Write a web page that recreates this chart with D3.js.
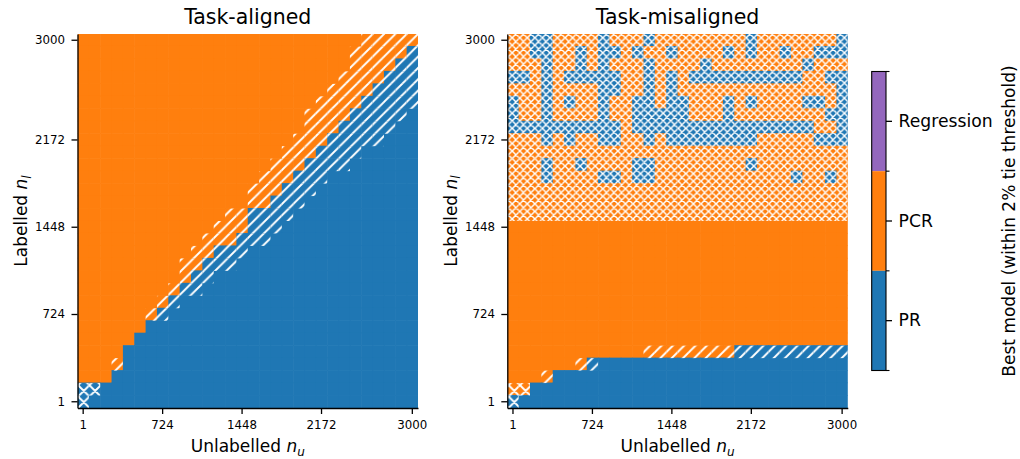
<!DOCTYPE html>
<meta charset="utf-8">
<style>
body { margin: 0; background: #fff; }
text { font-family: "DejaVu Sans", sans-serif; fill: #000; }
.axis path, .axis line { stroke: #000; stroke-width: 1.3; }
</style>
<svg width="1020" height="459"></svg>
<script src="https://cdn.jsdelivr.net/npm/d3@7"></script>
<script>

// grid values of n_u and n_l (30 steps from 1 to 3000)
var nValues = [1, 104, 207, 311, 414, 518, 621, 724, 828, 931,
               1035, 1138, 1241, 1345, 1448, 1552, 1655, 1759, 1862, 1965,
               2069, 2172, 2276, 2379, 2482, 2586, 2689, 2793, 2896, 3000];
var tickValues = [1, 724, 1448, 2172, 3000];

var models = ["PR", "PCR", "Regression"];
var modelColors = ["#1f77b4", "#ff7f0e", "#9467bd"];
var modelCodes = {B: "PR", O: "PCR", R: "Regression"};

// best model per cell, top row = n_l 3000, left column = n_u 1
var alignedBest = [
  "OOOOOOOOOO OOOOOOOOOO OOOOOOOOOO",
  "OOOOOOOOOO OOOOOOOOOO OOOOOOOOOB",
  "OOOOOOOOOO OOOOOOOOOO OOOOOOOOBB",
  "OOOOOOOOOO OOOOOOOOOO OOOOOOOBBB",
  "OOOOOOOOOO OOOOOOOOOO OOOOOOBBBB",
  "OOOOOOOOOO OOOOOOOOOO OOOOOBBBBB",
  "OOOOOOOOOO OOOOOOOOOO OOOOBBBBBB",
  "OOOOOOOOOO OOOOOOOOOO OOOBBBBBBB",
  "OOOOOOOOOO OOOOOOOOOO OOBBBBBBBB",
  "OOOOOOOOOO OOOOOOOOOO OBBBBBBBBB",
  "OOOOOOOOOO OOOOOOOOOO BBBBBBBBBB",
  "OOOOOOOOOO OOOOOOOOOB BBBBBBBBBB",
  "OOOOOOOOOO OOOOOOOOBB BBBBBBBBBB",
  "OOOOOOOOOO OOOOOOOBBB BBBBBBBBBB",
  "OOOOOOOOOO OOOOOBBBBB BBBBBBBBBB",
  "OOOOOOOOOO OOOOOBBBBB BBBBBBBBBB",
  "OOOOOOOOOO OOOOBBBBBB BBBBBBBBBB",
  "OOOOOOOOOO OOBBBBBBBB BBBBBBBBBB",
  "OOOOOOOOOO OBBBBBBBBB BBBBBBBBBB",
  "OOOOOOOOOO BBBBBBBBBB BBBBBBBBBB",
  "OOOOOOOOOB BBBBBBBBBB BBBBBBBBBB",
  "OOOOOOOOBB BBBBBBBBBB BBBBBBBBBB",
  "OOOOOOOBBB BBBBBBBBBB BBBBBBBBBB",
  "OOOOOOBBBB BBBBBBBBBB BBBBBBBBBB",
  "OOOOOBBBBB BBBBBBBBBB BBBBBBBBBB",
  "OOOOBBBBBB BBBBBBBBBB BBBBBBBBBB",
  "OOOOBBBBBB BBBBBBBBBB BBBBBBBBBB",
  "OOOBBBBBBB BBBBBBBBBB BBBBBBBBBB",
  "BBBBBBBBBB BBBBBBBBBB BBBBBBBBBB",
  "BBBBBBBBBB BBBBBBBBBB BBBBBBBBBB"
];

// ties: "/" two models within 2%, "x" and "*" wider ties
var alignedTie = [
  ".......... .......... ...../////",
  ".......... .......... ....//////",
  ".......... .......... ....//////",
  ".......... .......... ...///////",
  ".......... .......... ..////////",
  ".......... .......... ./////////",
  ".......... .......... /////////.",
  ".......... .......... ////////..",
  ".......... ........./ ///////...",
  ".......... ........// /////.....",
  ".......... ......./// ////......",
  ".......... ......//// //........",
  ".......... .....///// /.........",
  ".......... .....///// ..........",
  ".......... ...//////. ..........",
  ".......... ..//////.. ..........",
  ".......... .//////... ..........",
  ".......... /////..... ..........",
  "........./ ////...... ..........",
  "........./ //........ ..........",
  "........// /......... ..........",
  ".......//. .......... ..........",
  "......//.. .......... ..........",
  ".......... .......... ..........",
  ".......... .......... ..........",
  ".......... .......... ..........",
  ".../...... .......... ..........",
  ".......... .......... ..........",
  "xx........ .......... ..........",
  "x......... .......... .........."
];

var misalignedBest = [
  "OOBBOOOOBO OOBOOOOOOO OBOOOOOOOB",
  "OOBBOOBOBB OBOOBOOOOB OBOOBOOBBB",
  "OOOBOOBOBO OOBOOOOBOO OOOOOOBOOO",
  "BBOBOBBBBB OOBOBOBBBB BBBBBBOOBB",
  "OOOBOOOOBB OOBOBOOOOO OOOOOOOOOB",
  "BOOBOBOOBO OBBOBBOOOB OBOOOOBBOB",
  "BOOBOOOOBO OBBBBBOOOB OOOOOOOOBB",
  "BBBBBBBBBB OBBBBBBBBB BBBBBBBOOB",
  "OOOBOBOOBB OOBOBBBBBB BBOOOOOBBB",
  "OOOOOOOOOO OOOOOOOOOO OOOOOOOOOO",
  "OOOBOOBOOO OBBOOOOOOO OBOOOOOOOO",
  "OOOBOOOOBB OBBOOOOOOO OOOOOBOOBO",
  "OOOOOOOOOO OOOOOOOOOO OOOOOOOOOO",
  "OOOOOOOOOO OOOOOOOOOO OOOOOOOOOO",
  "OOOOOOOOOO OOOOOOOOOO OOOOOOOOOO",
  "OOOOOOOOOO OOOOOOOOOO OOOOOOOOOO",
  "OOOOOOOOOO OOOOOOOOOO OOOOOOOOOO",
  "OOOOOOOOOO OOOOOOOOOO OOOOOOOOOO",
  "OOOOOOOOOO OOOOOOOOOO OOOOOOOOOO",
  "OOOOOOOOOO OOOOOOOOOO OOOOOOOOOO",
  "OOOOOOOOOO OOOOOOOOOO OOOOOOOOOO",
  "OOOOOOOOOO OOOOOOOOOO OOOOOOOOOO",
  "OOOOOOOOOO OOOOOOOOOO OOOOOOOOOO",
  "OOOOOOOOOO OOOOOOOOOO OOOOOOOOOO",
  "OOOOOOOOOO OOOOOOOOOO OOOOOOOOOO",
  "OOOOOOOOOO OOOOOOOOOO BBBBBBBBBB",
  "OOOOOOOBBB BBBBBBBBBB BBBBBBBBBB",
  "OOOOBBBBBB BBBBBBBBBB BBBBBBBBBB",
  "OOBBBBBBBB BBBBBBBBBB BBBBBBBBBB",
  "BBBBBBBBBB BBBBBBBBBB BBBBBBBBBB"
];

var misalignedTie = [
  "********** ********** **********",
  "********** ********** **********",
  "********** ********** **********",
  "********** ********** **********",
  "********** ********** **********",
  "********** ********** **********",
  "********** ********** **********",
  "********** ********** **********",
  "********** ********** **********",
  "********** ********** **********",
  "********** ********** **********",
  "********** ********** **********",
  "********** ********** **********",
  "********** ********** **********",
  "********** ********** **********",
  ".......... .......... ..........",
  ".......... .......... ..........",
  ".......... .......... ..........",
  ".......... .......... ..........",
  ".......... .......... ..........",
  ".......... .......... ..........",
  ".......... .......... ..........",
  ".......... .......... ..........",
  ".......... .......... ..........",
  ".......... .......... ..........",
  ".......... ..//////// //////////",
  "......//.. .......... ..........",
  ".../...... .......... ..........",
  "xx........ .......... ..........",
  "x......... .......... .........."
];

var svg = d3.select("svg");
var defs = svg.append("defs");
var color = d3.scaleOrdinal(models, modelColors);

var plotTop = 34, plotBottom = 408, panelW = 340.5;
var panels = [
  {x0: 77.5, title: "Task-aligned", best: alignedBest, tie: alignedTie},
  {x0: 507.3, title: "Task-misaligned", best: misalignedBest, tie: misalignedTie}
];

// hatch patterns, white lines like matplotlib hatches
function hatch(id, s, cross, lw) {
  var d = "M-1,1L1,-1M0," + s + "L" + s + ",0M" + (s - 1) + "," + (s + 1) + "L" + (s + 1) + "," + (s - 1);
  if (cross) d += "M0,0L" + s + "," + s + "M" + (s - 1) + ",-1L" + (s + 1) + ",1M-1," + (s - 1) + "L1," + (s + 1);
  defs.append("pattern")
      .attr("id", id)
      .attr("patternUnits", "userSpaceOnUse")
      .attr("x", -1.2).attr("y", 0)
      .attr("width", s).attr("height", s)
    .append("path")
      .attr("d", d)
      .attr("fill", "none")
      .attr("stroke", "#fff")
      .attr("stroke-width", lw);
}
hatch("h-diag", 11.33, false, 1.9);
hatch("h-x", 11.33, true, 1.9);
hatch("h-xxx", 7.55, true, 1.45);
var tieFill = {"/": "url(#h-diag)", "x": "url(#h-x)", "*": "url(#h-xxx)"};

function styleTicks(g, size) {
  g.selectAll("text").style("font-size", size).style("font-family", "DejaVu Sans");
}

panels.forEach(function(p, k) {
  var x = d3.scaleBand().domain(nValues).range([p.x0, p.x0 + panelW]);
  var y = d3.scaleBand().domain(nValues).range([plotBottom, plotTop]);

  var cells = [];
  p.best.forEach(function(row, i) {
    var bestRow = row.replace(/ /g, "").split("");
    var tieRow = p.tie[i].replace(/ /g, "").split("");
    bestRow.forEach(function(ch, j) {
      cells.push({
        nu: nValues[j],
        nl: nValues[nValues.length - 1 - i],
        model: modelCodes[ch],
        tie: tieRow[j]
      });
    });
  });

  defs.append("clipPath").attr("id", "clip" + k)
    .append("rect")
      .attr("x", p.x0).attr("y", plotTop)
      .attr("width", panelW).attr("height", plotBottom - plotTop);

  var g = svg.append("g").attr("clip-path", "url(#clip" + k + ")");

  g.selectAll(".cell")
    .data(cells)
    .enter().append("rect")
      .attr("class", "cell")
      .attr("x", function(d) { return x(d.nu); })
      .attr("y", function(d) { return y(d.nl) - 0.5; })
      .attr("width", x.bandwidth() + 0.6)
      .attr("height", y.bandwidth() + 0.6)
      .attr("fill", function(d) { return color(d.model); });

  g.selectAll(".tie")
    .data(cells.filter(function(d) { return tieFill[d.tie]; }))
    .enter().append("rect")
      .attr("class", "tie")
      .attr("x", function(d) { return x(d.nu); })
      .attr("y", function(d) { return y(d.nl); })
      .attr("width", x.bandwidth())
      .attr("height", y.bandwidth())
      .attr("fill", function(d) { return tieFill[d.tie]; });

  svg.append("g")
      .attr("class", "axis")
      .attr("transform", "translate(0," + plotBottom + ")")
      .call(d3.axisBottom(x).tickValues(tickValues).tickSize(6).tickSizeOuter(0).tickPadding(6.4))
      .call(styleTicks, "11.8px");

  svg.append("g")
      .attr("class", "axis")
      .attr("transform", "translate(" + p.x0 + ",0)")
      .call(d3.axisLeft(y).tickValues(tickValues).tickSize(6).tickSizeOuter(0).tickPadding(6.4))
      .call(styleTicks, "11.8px");

  var cx = p.x0 + panelW / 2;
  svg.append("text")
      .attr("x", cx).attr("y", 24)
      .attr("text-anchor", "middle")
      .style("font-size", "20.5px")
      .text(p.title);

  var xl = svg.append("text")
      .attr("x", cx).attr("y", 452)
      .attr("text-anchor", "middle")
      .style("font-size", "17px");
  xl.append("tspan").text("Unlabelled ");
  xl.append("tspan").style("font-style", "italic").text("n");
  xl.append("tspan").style("font-style", "italic").style("font-size", "12px").attr("dy", 3.5).text("u");

  var yl = svg.append("text")
      .attr("transform", "translate(" + (p.x0 - 50.5) + "," + ((plotTop + plotBottom) / 2) + ") rotate(-90)")
      .attr("text-anchor", "middle")
      .style("font-size", "17px");
  yl.append("tspan").text("Labelled ");
  yl.append("tspan").style("font-style", "italic").text("n");
  yl.append("tspan").style("font-style", "italic").style("font-size", "12px").attr("dy", 3.5).text("l");
});

// colorbar
var cbX = 871.7, cbW = 14.3;
var cbOrder = models.slice().reverse();
var cb = d3.scaleBand().domain(cbOrder).range([71.5, 370.5]);

svg.append("g").selectAll("rect")
  .data(cbOrder)
  .enter().append("rect")
    .attr("x", cbX)
    .attr("y", function(d) { return cb(d); })
    .attr("width", cbW)
    .attr("height", cb.bandwidth())
    .attr("fill", color);

svg.append("rect")
    .attr("x", cbX).attr("y", 71.5)
    .attr("width", cbW).attr("height", 299)
    .attr("fill", "none")
    .attr("stroke", "#000")
    .attr("stroke-width", 1.1);

var cbAxis = svg.append("g")
    .attr("class", "axis")
    .attr("transform", "translate(" + (cbX + cbW) + ",0)")
    .call(d3.axisRight(cb).tickSize(6).tickSizeOuter(0).tickPadding(6.6))
    .call(styleTicks, "17.2px");
cbAxis.select(".domain").remove();

var edges = cbOrder.map(function(d) { return cb(d); }).concat([cb.range()[1]]);
svg.append("g").selectAll("line")
  .data(edges)
  .enter().append("line")
    .attr("x1", cbX + cbW).attr("x2", cbX + cbW + 3.5)
    .attr("y1", function(d) { return d; })
    .attr("y2", function(d) { return d; })
    .attr("stroke", "#000")
    .attr("stroke-width", 1.1);

svg.append("text")
    .attr("transform", "translate(1015,221) rotate(-90)")
    .attr("text-anchor", "middle")
    .style("font-size", "17px")
    .text("Best model (within 2% tie threshold)");

</script>
